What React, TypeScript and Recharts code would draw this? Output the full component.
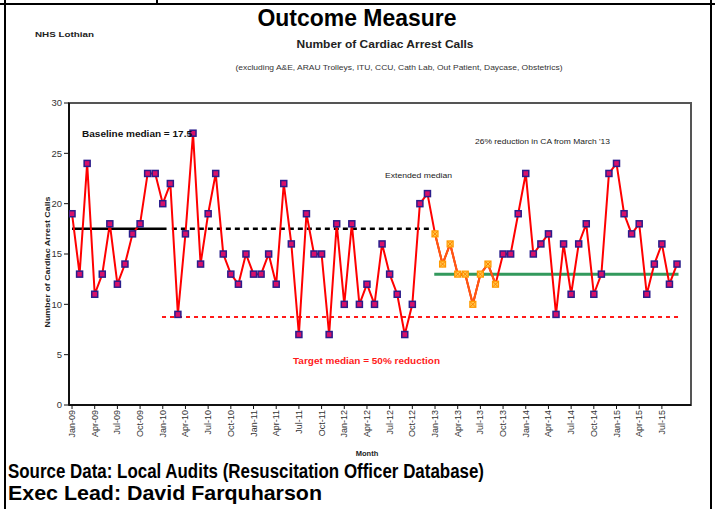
import { LineChart, Line, XAxis, YAxis, ReferenceLine, ReferenceArea } from "recharts";

// monthly counts, Jan-09 .. Sep-15
const arrestCalls = [
  19, 13, 24, 11, 13, 18, 12, 14, 17, 18, 23, 23,
  20, 22, 9, 17, 27, 14, 19, 23, 15, 13, 12, 15,
  13, 13, 15, 12, 22, 16, 7, 19, 15, 15, 7, 18,
  10, 18, 10, 12, 10, 16, 13, 11, 7, 10, 20, 21,
  17, 14, 16, 13, 13, 10, 13, 14, 12, 15, 15, 19,
  23, 15, 16, 17, 9, 16, 11, 16, 18, 11, 13, 23,
  24, 19, 17, 18, 11, 14, 16, 12, 14,
];

const tickLabels = [
  "Jan-09", "Apr-09", "Jul-09", "Oct-09", "Jan-10", "Apr-10", "Jul-10", "Oct-10",
  "Jan-11", "Apr-11", "Jul-11", "Oct-11", "Jan-12", "Apr-12", "Jul-12", "Oct-12",
  "Jan-13", "Apr-13", "Jul-13", "Oct-13", "Jan-14", "Apr-14", "Jul-14", "Oct-14",
  "Jan-15", "Apr-15", "Jul-15",
];
const xTicks = tickLabels.map((_, i) => i * 3);
const yTicks = [0, 5, 10, 15, 20, 25, 30];

// points flagged in orange (Jan-13 .. Sep-13)
const flaggedFrom = 48;
const flaggedTo = 56;

const baselineMedian = 17.5;
const targetMedian = 8.75;
const reducedMedian = 13;
const baselineSpan = [0, 12.5];
const extendedSpan = [13.2, 47.7];
const targetSpan = [11.9, 80.4];
const reducedSpan = [47.9, 80.2];

const xDomain = [-0.4, 81.85];

const data = arrestCalls.map((v, i) => ({
  idx: i,
  calls: v,
  flagged: i >= flaggedFrom && i <= flaggedTo ? v : null,
}));

const FONT = "'Liberation Sans', Arial, sans-serif";

const MonthTick = (props: any) => {
  const { x, y, payload } = props;
  return (
    <text
      x={x}
      y={y}
      transform={`rotate(-90 ${x} ${y})`}
      textAnchor="end"
      dy={3}
      fontSize={9}
      fill="#333"
      fontFamily={FONT}
    >
      {tickLabels[Math.round(payload.value / 3)]}
    </text>
  );
};

const CallDot = (props: any) => {
  const { cx, cy, index } = props;
  if (index >= flaggedFrom && index <= flaggedTo) return <g key={index} />;
  return (
    <rect key={index} x={cx - 3} y={cy - 3} width={6} height={6} fill="#d8106a" stroke="#2b1d8c" strokeWidth={1.5} />
  );
};

const FlagDot = (props: any) => {
  const { cx, cy, index, value } = props;
  if (value == null) return <g key={index} />;
  return (
    <g key={index}>
      <rect x={cx - 3} y={cy - 3} width={6} height={6} fill="#ffc84a" stroke="#ff9a00" strokeWidth={1.2} />
      <path d={`M${cx - 2.5},${cy - 2.5}L${cx + 2.5},${cy + 2.5}M${cx + 2.5},${cy - 2.5}L${cx - 2.5},${cy + 2.5}`} stroke="#ff8000" strokeWidth={1} />
    </g>
  );
};

export default function App() {
  return (
    <div style={{ position: "absolute", left: 0, top: 0, width: 715, height: 509, background: "#fff", overflow: "hidden" }}>
      <LineChart width={715} height={509} data={data} margin={{ top: 103, right: 24, left: 29, bottom: 64 }}>
        <ReferenceArea x1={xDomain[0]} x2={xDomain[1]} y1={0} y2={30} fill="none" stroke="#555" strokeWidth={2} ifOverflow="visible" />
        <XAxis
          dataKey="idx"
          type="number"
          domain={xDomain}
          allowDataOverflow
          ticks={xTicks}
          interval={0}
          height={40}
          tick={<MonthTick />}
          tickSize={4}
          tickMargin={1}
          axisLine={{ stroke: "#111", strokeWidth: 2 }}
          tickLine={{ stroke: "#111" }}
        />
        <YAxis
          type="number"
          domain={[0, 30]}
          ticks={yTicks}
          width={40}
          tickSize={5}
          tickMargin={2}
          tick={{ fontSize: 9.5, fill: "#333", fontFamily: FONT }}
          axisLine={{ stroke: "#111", strokeWidth: 2 }}
          tickLine={{ stroke: "#111" }}
        />
        <ReferenceLine
          segment={[{ x: targetSpan[0], y: targetMedian }, { x: targetSpan[1], y: targetMedian }]}
          stroke="#ff1a1a"
          strokeWidth={2}
          strokeDasharray="4 4"
        />
        <ReferenceLine
          segment={[{ x: baselineSpan[0], y: baselineMedian }, { x: baselineSpan[1], y: baselineMedian }]}
          stroke="#000"
          strokeWidth={2.5}
        />
        <ReferenceLine
          segment={[{ x: extendedSpan[0], y: baselineMedian }, { x: extendedSpan[1], y: baselineMedian }]}
          stroke="#000"
          strokeWidth={2.5}
          strokeDasharray="5 4"
        />
        <ReferenceLine
          segment={[{ x: reducedSpan[0], y: reducedMedian }, { x: reducedSpan[1], y: reducedMedian }]}
          stroke="#33995c"
          strokeWidth={3}
        />
        <Line type="linear" dataKey="calls" stroke="#ff0000" strokeWidth={2} dot={<CallDot />} activeDot={false} isAnimationActive={false} />
        <Line type="linear" dataKey="flagged" stroke="#ff5a10" strokeWidth={2} dot={<FlagDot />} activeDot={false} connectNulls={false} isAnimationActive={false} />
      </LineChart>

      <svg width={715} height={509} style={{ position: "absolute", left: 0, top: 0, pointerEvents: "none" }} fontFamily={FONT}>
        <line x1={0} y1={4} x2={715} y2={4} stroke="#000" strokeWidth={2} />
        <line x1={157} y1={0} x2={157} y2={4} stroke="#000" strokeWidth={2} />
        <line x1={5} y1={0} x2={5} y2={509} stroke="#000" strokeWidth={2} />
        <line x1={711} y1={0} x2={711} y2={509} stroke="#000" strokeWidth={2} />

        <text x={357} y={26} textAnchor="middle" fontSize={24} fontWeight="bold" textLength={199} lengthAdjust="spacingAndGlyphs">Outcome Measure</text>
        <text x={35} y={37} fontSize={8} fontWeight="bold" fill="#222" textLength={59} lengthAdjust="spacingAndGlyphs">NHS Lothian</text>
        <text x={385} y={48} textAnchor="middle" fontSize={11} fontWeight="bold" fill="#222" textLength={177} lengthAdjust="spacingAndGlyphs">Number of Cardiac Arrest Calls</text>
        <text x={399} y={70} textAnchor="middle" fontSize={6.5} fill="#333" textLength={327} lengthAdjust="spacingAndGlyphs">(excluding A&amp;E, ARAU Trolleys, ITU, CCU, Cath Lab, Out Patient, Daycase, Obstetrics)</text>

        <text x={82} y={137} fontSize={9} fontWeight="bold" fill="#111" textLength={110} lengthAdjust="spacingAndGlyphs">Baseline median = 17.5</text>
        <text x={385} y={178} fontSize={7.5} fill="#222" textLength={67} lengthAdjust="spacingAndGlyphs">Extended median</text>
        <text x={475} y={144} fontSize={7.5} fill="#222" textLength={135} lengthAdjust="spacingAndGlyphs">26% reduction in CA from March '13</text>
        <text x={293} y={364} fontSize={9} fontWeight="bold" fill="#ff1a1a" textLength={147} lengthAdjust="spacingAndGlyphs">Target median = 50% reduction</text>

        <text x={50} y={262} transform="rotate(-90 50 262)" textAnchor="middle" fontSize={8} fontWeight="bold" fill="#222" textLength={131} lengthAdjust="spacingAndGlyphs">Number of Cardiac Arrest Calls</text>
        <text x={367} y={456} textAnchor="middle" fontSize={7.5} fontWeight="bold" fill="#222">Month</text>

        <text x={8} y={478} fontSize={19.5} fontWeight="bold" textLength={476} lengthAdjust="spacingAndGlyphs">Source Data: Local Audits (Resuscitation Officer Database)</text>
        <text x={8} y={500} fontSize={21} fontWeight="bold" textLength={314} lengthAdjust="spacingAndGlyphs">Exec Lead: David Farquharson</text>
      </svg>
    </div>
  );
}
